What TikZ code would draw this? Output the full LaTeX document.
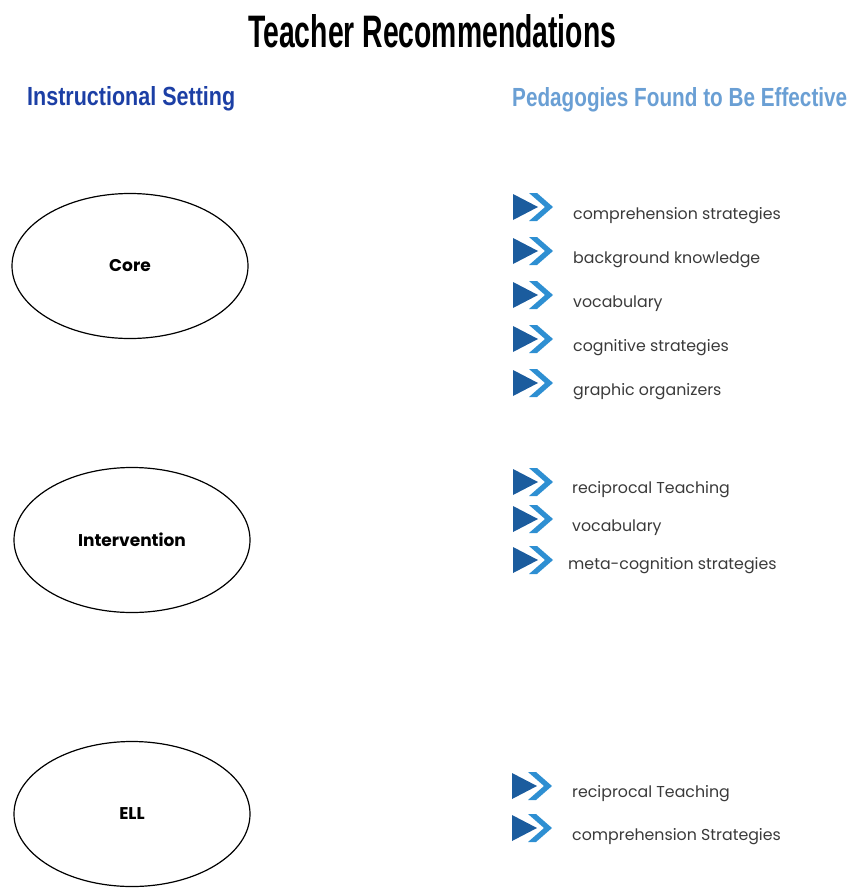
\documentclass[tikz,border=0pt]{standalone}
\usepackage{fontspec}
\usepackage{graphicx}
\setmainfont{Poppins}
\newfontfamily\headfont{Liberation Sans}
\usetikzlibrary{shapes.geometric}
\definecolor{setblue}{HTML}{1C3FA5}
\definecolor{pedblue}{HTML}{6A9FD4}
\definecolor{ffdark}{HTML}{1B5C9E}
\definecolor{fflight}{HTML}{2E8FD2}
\definecolor{itemgray}{HTML}{3A3A3A}
\tikzset{
  heading/.style={inner sep=0pt,anchor=base west},
  setting/.style={draw,ellipse,line width=1.2pt,minimum width=236pt,minimum height=145pt,font=\fontsize{17}{19}\selectfont\bfseries},
  item/.style={inner sep=0pt,anchor=base west,text=itemgray,font=\fontsize{15.8}{18}\selectfont},
  pics/ffmark/.style={code={
    \fill[ffdark] (0,-13) -- (25,0) -- (0,13) -- cycle;
    \fill[fflight] (16,-14) -- (24,-14) -- (40,0) -- (24,14) -- (16,14) -- (32,0) -- cycle;
  }}
}
\begin{document}
\begin{tikzpicture}[x=1pt,y=-1pt]
\useasboundingbox (0,0) rectangle (854,888);
% headings
\node[heading] (title) at (248,48) {\resizebox{368pt}{33pt}{\headfont\bfseries Teacher Recommendations}};
\node[heading,text=setblue] (sethead) at (27,106) {\resizebox{208pt}{19pt}{\headfont\bfseries Instructional Setting}};
\node[heading,text=pedblue] (pedhead) at (512,107) {\resizebox{335pt}{19pt}{\headfont\bfseries Pedagogies Found to Be Effective}};
% settings
\node[setting] (core) at (130,266) {Core};
\node[setting] (interv) at (132,540) {Intervention};
\node[setting] (ell) at (132,814) {ELL};
% core
\pic at (513,207) {ffmark};
\node[item] (core1) at (573,219) {comprehension strategies};
\pic at (513,251) {ffmark};
\node[item] (core2) at (573,263) {background knowledge};
\pic at (513,295) {ffmark};
\node[item] (core3) at (573,307) {vocabulary};
\pic at (513,339) {ffmark};
\node[item] (core4) at (573,351) {cognitive strategies};
\pic at (513,383) {ffmark};
\node[item] (core5) at (573,395) {graphic organizers};
% intervention
\pic at (513,482) {ffmark};
\node[item] (interv1) at (572,493) {reciprocal Teaching};
\pic at (513,519) {ffmark};
\node[item] (interv2) at (572,531) {vocabulary};
\pic at (513,560) {ffmark};
\node[item] (interv3) at (568,569) {meta-cognition strategies};
% ell
\pic at (512,786) {ffmark};
\node[item] (ell1) at (572,797) {reciprocal Teaching};
\pic at (512,828) {ffmark};
\node[item] (ell2) at (572,840) {comprehension Strategies};
\end{tikzpicture}
\end{document}
